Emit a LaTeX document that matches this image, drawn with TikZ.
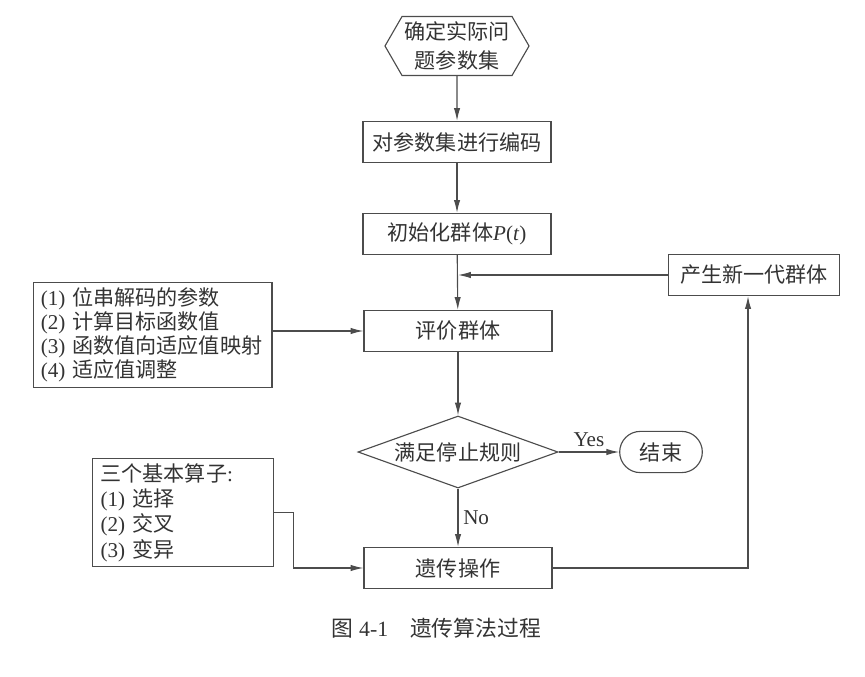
\documentclass[tikz,border=0pt]{standalone}
\usepackage{fontspec}
\setmainfont{Liberation Serif}
\newfontfamily\zhfont{Noto Sans CJK SC}
\newcommand{\zh}[1]{{\zhfont #1}}
\usetikzlibrary{positioning,arrows.meta,shapes.geometric,shapes.symbols,shapes.misc}
\definecolor{lineg}{gray}{0.3}
\definecolor{textg}{gray}{0.2}

\begin{document}
\begin{tikzpicture}[
  x=0.025cm, y=-0.025cm,
  font=\fontsize{15}{17}\selectfont, text=textg,
  >={Latex[length=3.2mm,width=1.6mm]},
  box/.style={draw=lineg, line width=0.8pt, minimum width=4.7cm, minimum height=1.03cm, inner sep=2pt},
  hexa/.style={signal, signal to=west and east, signal pointer angle=120, draw=lineg, line width=0.8pt,
               align=center, font=\fontsize{15}{20.5}\selectfont, inner sep=1pt,
               minimum width=3.6cm, minimum height=1.475cm},
  dec/.style={diamond, aspect=2.8, draw=lineg, line width=0.8pt, inner sep=0pt,
              minimum width=5cm, minimum height=1.8cm},
  endbox/.style={rounded rectangle, draw=lineg, line width=0.8pt, minimum width=2.3cm, minimum height=1.03cm},
  note/.style={draw=lineg, line width=0.8pt, align=left, anchor=north west, inner xsep=0.18cm},
  flow/.style={->, line width=0.8pt, draw=lineg},
]
\useasboundingbox (0,0) rectangle (865,676);

% ---- main column ----
\node[hexa] (prob) at (457,46) {\zh{确定实际问}\\\zh{题参数集}};
\node[box] (code) at (457,142) {\zh{对参数集进行编码}};
\node[box] (init) at (457,234) {\zh{初始化群体}\textit{P}(\textit{t})};
\node[box] (eval) at (458,331) {\zh{评价群体}};
\node[dec] (stop) at (458,452) {\zh{满足停止规则}};
\node[box] (ga) at (458,568) {\zh{遗传操作}};

% ---- right side ----
\node[box, minimum width=4.275cm] (newgen) at (754,275) {\zh{产生新一代群体}};
\node[endbox] (finish) at (661,452) {\zh{结束}};

% ---- left notes ----
\node[note, text width=5.6cm, minimum height=2.625cm] (steps) at (33,282)
      {(1)~\zh{位串解码的参数}\\(2)~\zh{计算目标函数值}\\(3)~\zh{函数值向适应值映射}\\(4)~\zh{适应值调整}};
\node[note, inner xsep=0.2cm, text width=4.125cm, minimum height=2.575cm,
      font=\fontsize{15}{18}\selectfont] (ops) at (92,458)
      {\zh{三个基本算子}:\\(1)~\zh{选择}\\(2)~\zh{交叉}\\(3)~\zh{变异}};

% ---- edges ----
\draw[flow] (prob) -- (code);
\draw[flow] (code) -- (init);
\draw[flow] (init) -- (eval);
\draw[flow] (newgen.west) -- (newgen.west -| eval.north);
\draw[flow] (steps.east |- eval) -- (eval.west);
\draw[flow] (eval) -- (stop);
\draw[flow] (stop) -- node[above]{Yes} (finish);
\draw[flow] (stop) -- node[right]{No} (ga);
\draw[flow] (ops.east) -- ++(19,0) |- (ga.west);
\draw[flow] (ga.east) -| ([xshift=-0.15cm]newgen.south);

% ---- caption ----
\node[anchor=west, font=\fontsize{15.5}{18}\selectfont] (cap) at (327,628) {\zh{图} 4-1\quad\zh{遗传算法过程}};
\end{tikzpicture}
\end{document}
